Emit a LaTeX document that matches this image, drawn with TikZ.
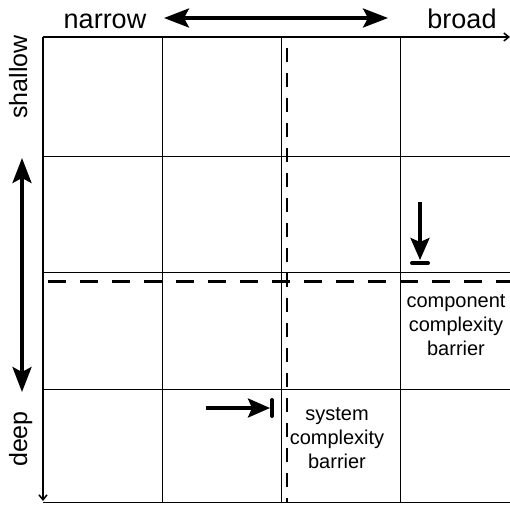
\documentclass[tikz,border=0pt]{standalone}
\usepackage{fontspec}
\setmainfont{Liberation Sans}
\usetikzlibrary{arrows.meta}
\begin{document}
\begin{tikzpicture}[x=1pt,y=-1pt,
  gridline/.style={line width=0.9pt},
  axisline/.style={line width=1.5pt},
  barrierline/.style={line width=3pt, dash pattern=on 18pt off 14pt},
  sysline/.style={line width=2.4pt, dash pattern=on 14pt off 11pt},
  bigarrow/.style={line width=3.4pt, {Stealth[length=25pt,width=19pt,inset=5pt]}-{Stealth[length=25pt,width=19pt,inset=5pt]}},
  markarrow/.style={line width=3.4pt, -{Stealth[length=22pt,width=19pt,inset=4pt]}},
  stopbar/.style={line width=4pt, line cap=round},
  axislabel/.style={font=\fontsize{27}{30}\selectfont, anchor=base, inner sep=0pt},
  sidelabel/.style={font=\fontsize{25}{28}\selectfont, anchor=base, inner sep=0pt, rotate=90},
  notelabel/.style={font=\fontsize{20}{24}\selectfont, align=center, inner sep=0pt}
]
\useasboundingbox (0,0) rectangle (510,504);

% grid cells
\foreach \gx in {162,281,400} \draw[gridline] (\gx,37) -- (\gx,503);
\foreach \gy in {156,272,389,502} \draw[gridline] (43,\gy) -- (510,\gy);

% axes
\coordinate (origin) at (43,37);
\coordinate (xend) at (510,37);
\coordinate (yend) at (43,501);
\draw[axisline, -{Straight Barb[length=5pt,width=8pt]}] (origin) -- (xend);
\draw[axisline, -{Straight Barb[length=5pt,width=8pt]}] (origin) -- (yend);

% complexity barriers
\coordinate (hb1) at (48,281);
\coordinate (hb2) at (512,281);
\draw[barrierline] (hb1) -- (hb2);
\coordinate (vb1) at (287,48);
\coordinate (vb2) at (287,502);
\draw[sysline] (vb1) -- (vb2);

% axis labels
\node[axislabel] (narrow) at (105,28) {narrow};
\node[axislabel] (broad) at (462,28) {broad};
\coordinate (hl) at (164,18);
\coordinate (hr) at (388,18);
\draw[bigarrow] (hl) -- (hr);

\node[sidelabel] (shallow) at (27,77) {shallow};
\node[sidelabel] (deep) at (27,439) {deep};
\coordinate (vt) at (22,158);
\coordinate (vbm) at (22,392);
\draw[bigarrow] (vt) -- (vbm);

% component complexity barrier marker
\coordinate (ca1) at (420,202);
\coordinate (ca2) at (420,260);
\draw[markarrow] (ca1) -- (ca2);
\coordinate (cb1) at (412,263);
\coordinate (cb2) at (428,263);
\draw[stopbar] (cb1) -- (cb2);
\node[notelabel] (comp) at (456,325) {component\\complexity\\barrier};

% system complexity barrier marker
\coordinate (sa1) at (206,408);
\coordinate (sa2) at (270,408);
\draw[markarrow] (sa1) -- (sa2);
\coordinate (sb1) at (272,400);
\coordinate (sb2) at (272,416);
\draw[stopbar] (sb1) -- (sb2);
\node[notelabel] (sys) at (337,438) {system\\complexity\\barrier};
\end{tikzpicture}
\end{document}
